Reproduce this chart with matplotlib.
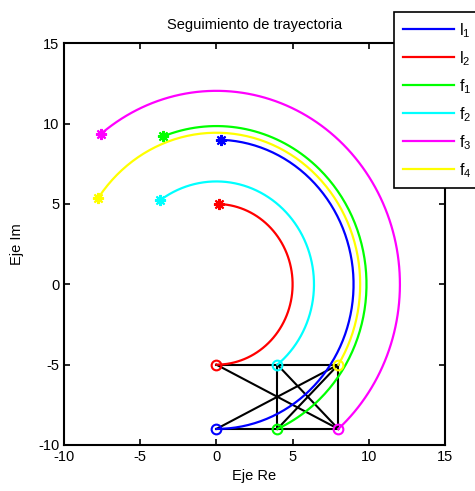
import numpy as np
import matplotlib
matplotlib.use("Agg")
import matplotlib.pyplot as plt

plt.rcParams['font.family'] = ['Liberation Sans', 'DejaVu Sans']
plt.rcParams['mathtext.fontset'] = 'custom'
plt.rcParams['mathtext.rm'] = 'Liberation Sans'
plt.rcParams['mathtext.it'] = 'Liberation Sans'
plt.rcParams['axes.unicode_minus'] = False

# agents: initial formation positions (x, y)
names = ['l_1', 'l_2', 'f_1', 'f_2', 'f_3', 'f_4']
start_x = [0, 0, 4, 4, 8, 8]
start_y = [-9, -5, -9, -5, -9, -5]
colors = ['#0000ff', '#ff0000', '#00ff00', '#00ffff', '#ff00ff', '#ffff00']
# rotation swept by each agent about the origin (degrees)
sweep_deg = [178.1, 178.3, 176.7, 176.4, 177.5, 177.4]

# formation graph edges (index pairs)
edges = [(1, 5), (0, 4), (3, 2), (5, 4), (1, 4), (0, 5), (3, 4), (2, 5)]

fig = plt.figure(figsize=(4.75, 4.91), dpi=100)
ax = fig.add_axes([64/475, 1-445/491, (445-64)/475, (445-43.3)/491])

for i, j in edges:
    ax.plot([start_x[i], start_x[j]], [start_y[i], start_y[j]], color='black', lw=1.5, zorder=1)

handles = []
for k in range(len(names)):
    r = np.hypot(start_x[k], start_y[k])
    a0 = np.arctan2(start_y[k], start_x[k])
    th = a0 + np.radians(np.linspace(0, sweep_deg[k], 200))
    xs, ys = r*np.cos(th), r*np.sin(th)
    h, = ax.plot(xs, ys, color=colors[k], lw=1.6, zorder=2, label=r'$\mathregular{%s}$' % names[k])
    handles.append(h)
    ax.plot(xs[0], ys[0], marker='o', ms=7, mfc='none', mec=colors[k], mew=1.5, zorder=3)
    ax.plot(xs[-1], ys[-1], marker=(8, 2, 0), ms=8, mec=colors[k], mew=1.5, zorder=3)

ax.set_xlim(-10, 15)
ax.set_ylim(-10, 15)
ax.set_xticks(np.arange(-10, 16, 5))
ax.set_yticks(np.arange(-10, 16, 5))
ax.tick_params(direction='in', top=True, right=True, labelsize=10.5, length=4, width=1.2)
for s in ax.spines.values():
    s.set_linewidth(1.5)
ax.set_title('Seguimiento de trayectoria', fontsize=10.5, pad=10)
ax.set_xlabel('Eje Re', fontsize=10.5, labelpad=4)
ax.set_ylabel('Eje Im', fontsize=10.5, labelpad=10)

leg = fig.legend(handles=handles, loc='upper left', bbox_to_anchor=(394/475, 1-12.3/491),
                 fontsize=11.5, frameon=True, fancybox=False, edgecolor='black', framealpha=1,
                 handlelength=3.2, handletextpad=0.3, borderpad=0.55, labelspacing=0.58,
                 borderaxespad=0)
leg.get_frame().set_linewidth(1.2)

fig.savefig('out.png', dpi=100)
